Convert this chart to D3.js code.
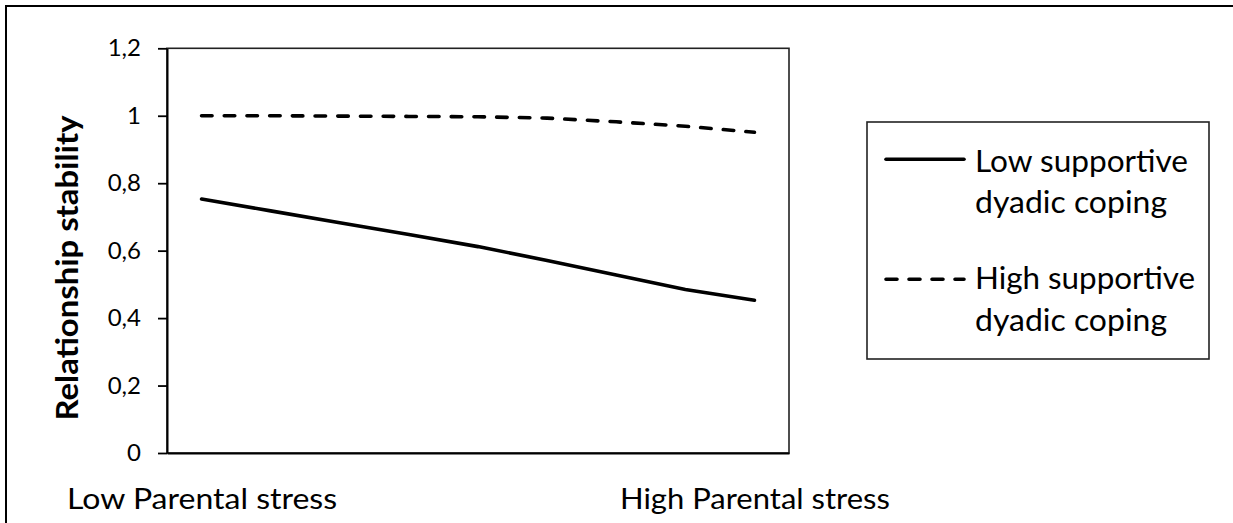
<!DOCTYPE html>
<html><head><meta charset="utf-8">
<script src="https://cdn.jsdelivr.net/npm/d3@7"></script>
<style>
body{margin:0;background:#fff}
svg{display:block}
text{font-family:Lato,"Open Sans",sans-serif;fill:#000}
</style>
</head><body><svg id="c" width="1233" height="523"></svg>
<script>
// ---- data ----
const categories = ["Low Parental stress","","","","","","","","High Parental stress"];
const lowSupport  = [0.753,0.718,0.683,0.648,0.612,0.571,0.528,0.485,0.453];
const highSupport = [1.000,1.000,0.999,0.998,0.997,0.993,0.982,0.969,0.951];
const yTicks = [0,0.2,0.4,0.6,0.8,1,1.2];
const yTitle = "Relationship stability";
const legendLabels = [["Low supportive","dyadic coping"],["High supportive","dyadic coping"]];

// ---- layout ----
const svg = d3.select("#c");
const L = 167, R = 789, T = 48.3, B = 453;

// outer frame (top & left visible, rest runs off the canvas)
svg.append("rect").attr("x",6).attr("y",6).attr("width",1300).attr("height",600)
  .attr("fill","none").attr("stroke","#000").attr("stroke-width",2);

const x = d3.scalePoint().domain(d3.range(categories.length)).range([L,R]).padding(0.5);
const y = d3.scaleLinear().domain([0,1.2]).range([B,T]);

// plot area box
svg.append("rect").attr("x",L).attr("y",T).attr("width",R-L).attr("height",B-T)
  .attr("fill","none").attr("stroke","#222").attr("stroke-width",1.6);

// y axis
const yAxis = svg.append("g").attr("transform",`translate(${L},0)`)
  .call(d3.axisLeft(y).tickValues(yTicks).tickSize(9).tickSizeOuter(0).tickPadding(17)
    .tickFormat(d => String(d).replace(".",",")));
yAxis.select(".domain").attr("stroke","#000").attr("stroke-width",2);
yAxis.selectAll(".tick line").attr("stroke","#000").attr("stroke-width",1.8);
yAxis.selectAll(".tick text").attr("font-size",24).attr("font-family","Lato,'Open Sans',sans-serif").attr("fill","#000");

// x axis
const xAxis = svg.append("g").attr("transform",`translate(0,${B})`)
  .call(d3.axisBottom(x).tickSize(0).tickSizeOuter(0).tickPadding(35).tickFormat(i => categories[i]));
xAxis.select(".domain").attr("stroke","#000").attr("stroke-width",2);
xAxis.selectAll(".tick text").attr("font-size",29).attr("font-family","Lato,'Open Sans',sans-serif").attr("fill","#000")
  .each(function(d){ if(categories[d]) d3.select(this).attr("textLength", 270).attr("lengthAdjust","spacingAndGlyphs"); });

// y title
svg.append("text").attr("transform","translate(78,268) rotate(-90)")
  .attr("text-anchor","middle").attr("font-weight","bold").attr("font-size",30)
  .attr("textLength",305).attr("lengthAdjust","spacingAndGlyphs")
  .text(yTitle);

// lines
const line = d3.line().x((d,i)=>x(i)).y(d=>y(d));
svg.append("path").datum(lowSupport).attr("d",line)
  .attr("fill","none").attr("stroke","#000").attr("stroke-width",3.6).attr("stroke-linecap","round");
svg.append("path").datum(highSupport).attr("d",line)
  .attr("fill","none").attr("stroke","#000").attr("stroke-width",3.6).attr("stroke-linecap","round")
  .attr("stroke-dasharray","10.5 12.2");

// legend
const lg = svg.append("g");
lg.append("rect").attr("x",867).attr("y",122).attr("width",342).attr("height",237)
  .attr("fill","#fff").attr("stroke","#222").attr("stroke-width",1.6);
const legRows = [{y:159.3, dash:null, base:[171.5,212.5], widths:[213,192]},
                 {y:279.3, dash:"11 12", base:[289,331], widths:[220,192]}];
legRows.forEach((r,k)=>{
  const ln = lg.append("line").attr("x1",886).attr("x2",964).attr("y1",r.y).attr("y2",r.y)
    .attr("stroke","#000").attr("stroke-width",3.6).attr("stroke-linecap","round");
  if(r.dash) ln.attr("stroke-dasharray",r.dash);
  legendLabels[k].forEach((t,j)=>{
    lg.append("text").attr("x",975).attr("y",r.base[j]).attr("font-size",30)
      .attr("textLength",r.widths[j]).attr("lengthAdjust","spacingAndGlyphs").text(t);
  });
});
</script>
</body></html>
